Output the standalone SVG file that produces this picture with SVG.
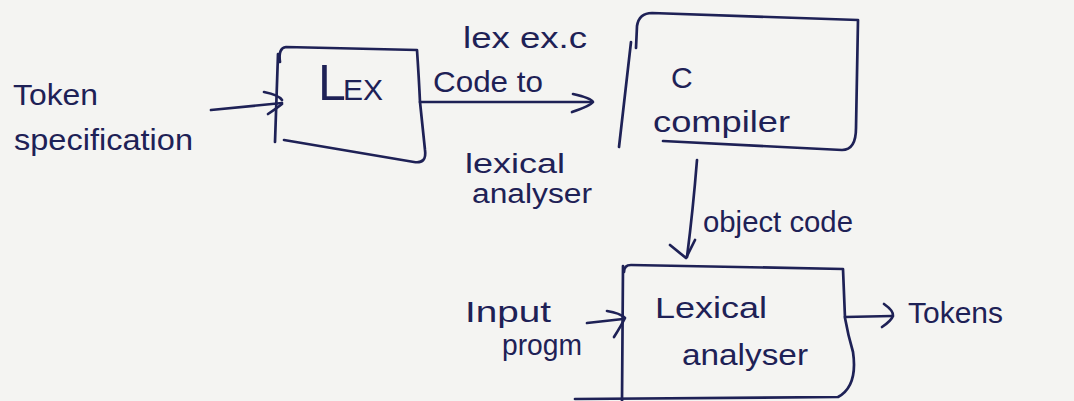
<svg xmlns="http://www.w3.org/2000/svg" width="1074" height="401" viewBox="0 0 1074 401">
  <style>
    .ink { fill: none; stroke: #1e2156; stroke-width: 2.7; stroke-linecap: round; stroke-linejoin: round; }
    .lbl { fill: #1e2156; font-family: "Liberation Sans", "Arial", sans-serif; font-size: 30px; }
    .sm { font-size: 27px; }
  </style>
  <rect width="1074" height="401" fill="#f4f4f2"/>

  <!-- connectors -->
  <g id="connectors">
    <!-- token specification to LEX -->
    <path class="ink" d="M211,110 L282,103"/>
    <path class="ink" d="M264,92 Q279,95 282,100 M268,114 Q277,108 282,104"/>
    <!-- LEX to C compiler -->
    <path class="ink" d="M420,102 L592,102"/>
    <path class="ink" d="M573,94 Q591,98 593,102 Q590,106 572,112"/>
    <!-- C compiler to lexical analyser -->
    <path class="ink" d="M697,160 Q693,210 687,257"/>
    <path class="ink" d="M670,245 L686,258 L695,240"/>
    <!-- input program to lexical analyser -->
    <path class="ink" d="M587,323 L623,319"/>
    <path class="ink" d="M607,311 Q620,313 625,318 Q621,326 614,337"/>
    <!-- lexical analyser to tokens -->
    <path class="ink" d="M845,317 L892,316"/>
    <path class="ink" d="M884,304 Q894,311 893,316 Q891,321 882,327"/>
  </g>

  <!-- token specification -->
  <g id="token-spec">
    <text class="lbl" x="13" y="105" textLength="85" lengthAdjust="spacingAndGlyphs">Token</text>
    <text class="lbl" x="14" y="150" textLength="179" lengthAdjust="spacingAndGlyphs">specification</text>
  </g>

  <!-- LEX box -->
  <g id="lex">
    <path class="ink" d="M280,62 Q278,48 286,47 L417,50 Q419,80 420,102 Q423,130 425,150 Q427,164 414,162 L284,140"/>
    <path class="ink" d="M278,54 L275,142"/>
    <text class="lbl" x="318" y="100"><tspan font-size="50">L</tspan><tspan x="343" font-size="30">EX</tspan></text>
  </g>

  <!-- labels on the LEX to compiler arrow -->
  <g id="lexex-label">
    <text class="lbl" x="463" y="48" textLength="124" lengthAdjust="spacingAndGlyphs">lex ex.c</text>
    <text class="lbl" x="433" y="92" textLength="110" lengthAdjust="spacingAndGlyphs">Code to</text>
    <text class="lbl sm" x="465" y="173" textLength="100" lengthAdjust="spacingAndGlyphs">lexical</text>
    <text class="lbl sm" x="472" y="203" textLength="120" lengthAdjust="spacingAndGlyphs">analyser</text>
  </g>

  <!-- C compiler box -->
  <g id="c-compiler">
    <path class="ink" d="M636,48 L637,26 Q639,13 652,13 L858,20 L856,128 Q856,150 842,150 L663,141"/>
    <path class="ink" d="M631,42 L619,147"/>
    <text class="lbl" x="671" y="88" font-size="28">C</text>
    <text class="lbl" x="653" y="132" textLength="137" lengthAdjust="spacingAndGlyphs">compiler</text>
  </g>

  <!-- object code label -->
  <g id="object-code-label">
    <text class="lbl" x="703" y="232" textLength="150" lengthAdjust="spacingAndGlyphs">object code</text>
  </g>

  <!-- input program label -->
  <g id="input-program">
    <text class="lbl" x="465" y="322" textLength="86" lengthAdjust="spacingAndGlyphs">Input</text>
    <text class="lbl" x="502" y="355" textLength="80" lengthAdjust="spacingAndGlyphs">progm</text>
  </g>

  <!-- lexical analyser box -->
  <g id="lexical-analyser">
    <path class="ink" d="M624,272 Q624,265 631,265 L843,269 L845,318 Q848,335 853,352 Q858,386 838,397 L575,399"/>
    <path class="ink" d="M623,266 L622,401"/>
    <text class="lbl" x="655" y="318" textLength="112" lengthAdjust="spacingAndGlyphs">Lexical</text>
    <text class="lbl" x="682" y="365" textLength="126" lengthAdjust="spacingAndGlyphs">analyser</text>
  </g>

  <!-- tokens output -->
  <g id="tokens">
    <text class="lbl" x="908" y="323" textLength="95" lengthAdjust="spacingAndGlyphs">Tokens</text>
  </g>
</svg>
